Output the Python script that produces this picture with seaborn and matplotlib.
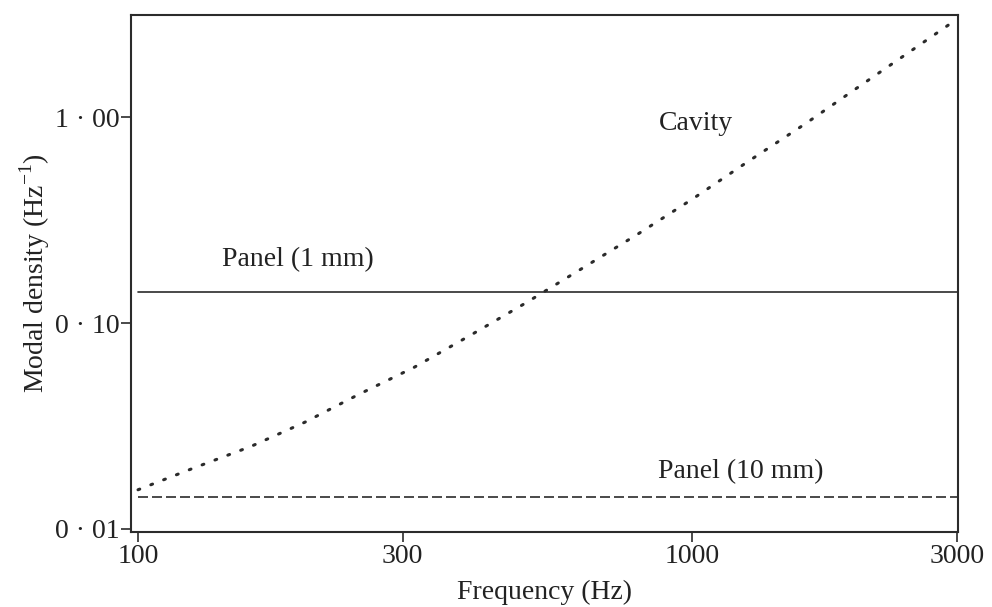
import matplotlib
matplotlib.use("Agg")
import matplotlib.pyplot as plt
import seaborn as sns
import pandas as pd

# Modal density of the enclosed cavity versus frequency
cavity_freq = [100, 125, 160, 200, 250, 315, 400, 500, 630, 800,
               1000, 1250, 1600, 2000, 2500, 3000]
cavity_density = [0.0155, 0.0196, 0.0252, 0.033, 0.045, 0.061, 0.088, 0.125,
                  0.183, 0.272, 0.40, 0.60, 0.93, 1.41, 2.13, 2.99]

# Flat-plate modal densities (frequency independent)
panel_freq = [100, 3000]
panel_1mm = [0.142, 0.142]
panel_10mm = [0.0143, 0.0143]

x_ticks = [100, 300, 1000, 3000]
x_tick_labels = ["100", "300", "1000", "3000"]
y_ticks = [0.01, 0.1, 1.0]
y_tick_labels = ["0 · 01", "0 · 10", "1 · 00"]

sns.set_theme(style="white")
plt.rcParams["font.family"] = ["Liberation Serif", "DejaVu Serif"]
plt.rcParams["mathtext.fontset"] = "custom"
plt.rcParams["mathtext.rm"] = "Liberation Serif"

ink = "#2b2b2b"
fig = plt.figure(figsize=(9.92, 6.07), dpi=100)
ax = fig.add_axes([0.132, 0.1236, 0.8337, 0.8517])

cavity = pd.DataFrame({"f": cavity_freq, "n": cavity_density})
thin = pd.DataFrame({"f": panel_freq, "n": panel_1mm})
thick = pd.DataFrame({"f": panel_freq, "n": panel_10mm})

sns.lineplot(data=cavity, x="f", y="n", ax=ax, color=ink, lw=2.2,
             linestyle=(0, (0.6, 3.9)), dash_capstyle="round")
sns.lineplot(data=thin, x="f", y="n", ax=ax, color=ink, lw=1.2)
sns.lineplot(data=thick, x="f", y="n", ax=ax, color=ink, lw=1.2,
             linestyle=(0, (6.0, 2.4)))

ax.set_xscale("log")
ax.set_yscale("log")
ax.set_xlim(97.1, 3012)
ax.set_ylim(0.00967, 3.13)

ax.set_xticks(x_ticks)
ax.set_xticklabels(x_tick_labels)
ax.set_yticks(y_ticks)
ax.set_yticklabels(y_tick_labels)
ax.minorticks_off()
ax.tick_params(axis="both", which="major", direction="out", colors=ink,
               labelcolor="#222222", labelsize=20, width=1.2)
ax.tick_params(axis="x", length=7.5, pad=1)
ax.tick_params(axis="y", length=7, pad=1.5)
ax.xaxis.set_ticks_position("bottom")
ax.yaxis.set_ticks_position("left")

for side in ax.spines.values():
    side.set_color(ink)
    side.set_linewidth(1.5)

ax.set_xlabel("Frequency (Hz)", fontsize=20, color="#222222", labelpad=8)
ax.set_ylabel("Modal density (Hz$^{-1}$)", fontsize=20, color="#222222",
              labelpad=2)

ax.text(870, 0.865, "Cavity", fontsize=20, color="#222222",
        ha="left", va="baseline")
ax.text(141.7, 0.189, "Panel (1 mm)", fontsize=20, color="#222222",
        ha="left", va="baseline")
ax.text(866, 0.0177, "Panel (10 mm)", fontsize=20, color="#222222",
        ha="left", va="baseline")

fig.savefig("out.png", dpi=100, facecolor="white")
